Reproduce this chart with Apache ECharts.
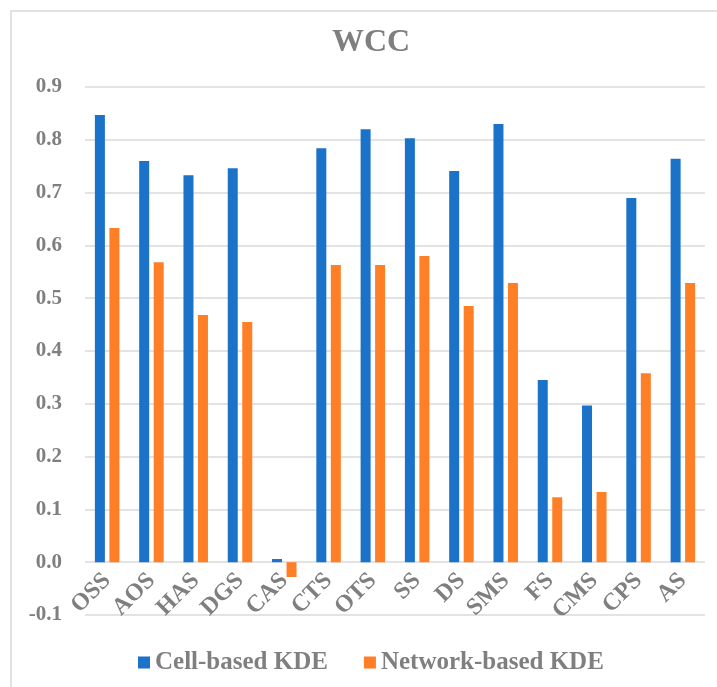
<!DOCTYPE html>
<html>
<head>
<meta charset="utf-8">
<script src="https://cdn.jsdelivr.net/npm/echarts@6/dist/echarts.min.js"></script>
<style>
  html, body { margin: 0; padding: 0; background: #fff; }
  #chart { width: 717px; height: 687px; }
</style>
</head>
<body>
<div id="chart"></div>
<script>
// Categories along the x axis
const categories = ['OSS', 'AOS', 'HAS', 'DGS', 'CAS', 'CTS', 'OTS', 'SS', 'DS', 'SMS', 'FS', 'CMS', 'CPS', 'AS'];
// WCC values for each method
const cellKDE = [0.847, 0.760, 0.733, 0.746, 0.006, 0.784, 0.820, 0.803, 0.741, 0.830, 0.345, 0.297, 0.690, 0.764];
const networkKDE = [0.633, 0.568, 0.468, 0.455, -0.028, 0.563, 0.563, 0.580, 0.485, 0.529, 0.123, 0.133, 0.358, 0.529];
const seriesNames = ['Cell-based KDE', 'Network-based KDE'];
const titleText = 'WCC';

const textColor = '#7f7f7f';
const fontFam = '"Liberation Serif", "Times New Roman", serif';
const gridColor = '#e3e3e3';

const chart = echarts.init(document.getElementById('chart'));
chart.setOption({
  animation: false,
  backgroundColor: '#fff',
  graphic: [{
    type: 'rect',
    shape: { x: 11, y: 11, width: 720, height: 700 },
    style: { fill: 'none', stroke: '#d9d9d9', lineWidth: 1.5 },
    silent: true
  }],
  title: {
    text: titleText,
    left: 327,
    top: 22,
    textStyle: { color: textColor, fontFamily: fontFam, fontWeight: 'bold', fontSize: 32 }
  },
  legend: {
    data: seriesNames,
    top: 645,
    left: 133,
    itemWidth: 12,
    itemHeight: 12,
    itemGap: 36,
    icon: 'rect',
    textStyle: { color: textColor, fontFamily: fontFam, fontWeight: 'bold', fontSize: 25 }
  },
  grid: [
    // main plotting area, -0.1 .. 0.9
    { left: 85, right: 12, top: 87, bottom: 72, containLabel: false },
    // same width, ending at the zero line: carries the category labels
    { left: 85, right: 12, top: 87, bottom: 125, containLabel: false }
  ],
  xAxis: [
    {
      type: 'category',
      gridIndex: 0,
      data: categories,
      axisLine: { show: false },
      axisTick: { show: false },
      axisLabel: { show: false }
    },
    {
      type: 'category',
      gridIndex: 1,
      data: categories,
      axisLine: { show: false },
      axisTick: { show: false },
      axisLabel: {
        rotate: 45,
        interval: 0,
        margin: 15,
        color: textColor,
        fontFamily: fontFam,
        fontWeight: 'bold',
        fontSize: 24
      }
    }
  ],
  yAxis: [
    {
      type: 'value',
      gridIndex: 0,
      min: -0.1,
      max: 0.9,
      interval: 0.1,
      axisLine: { show: false },
      axisTick: { show: false },
      splitLine: { lineStyle: { color: gridColor, width: 2 } },
      axisLabel: {
        margin: 23,
        color: textColor,
        fontFamily: fontFam,
        fontWeight: 'bold',
        fontSize: 21,
        formatter: v => v.toFixed(1)
      }
    },
    {
      type: 'value',
      gridIndex: 1,
      show: false,
      min: 0,
      max: 0.9
    }
  ],
  series: [
    {
      name: seriesNames[0],
      type: 'bar',
      data: cellKDE,
      barWidth: 10,
      barGap: '45%',
      itemStyle: { color: '#1a72c9' }
    },
    {
      name: seriesNames[1],
      type: 'bar',
      data: networkKDE,
      barWidth: 10,
      itemStyle: { color: '#ff7f27' }
    }
  ]
});
</script>
</body>
</html>
